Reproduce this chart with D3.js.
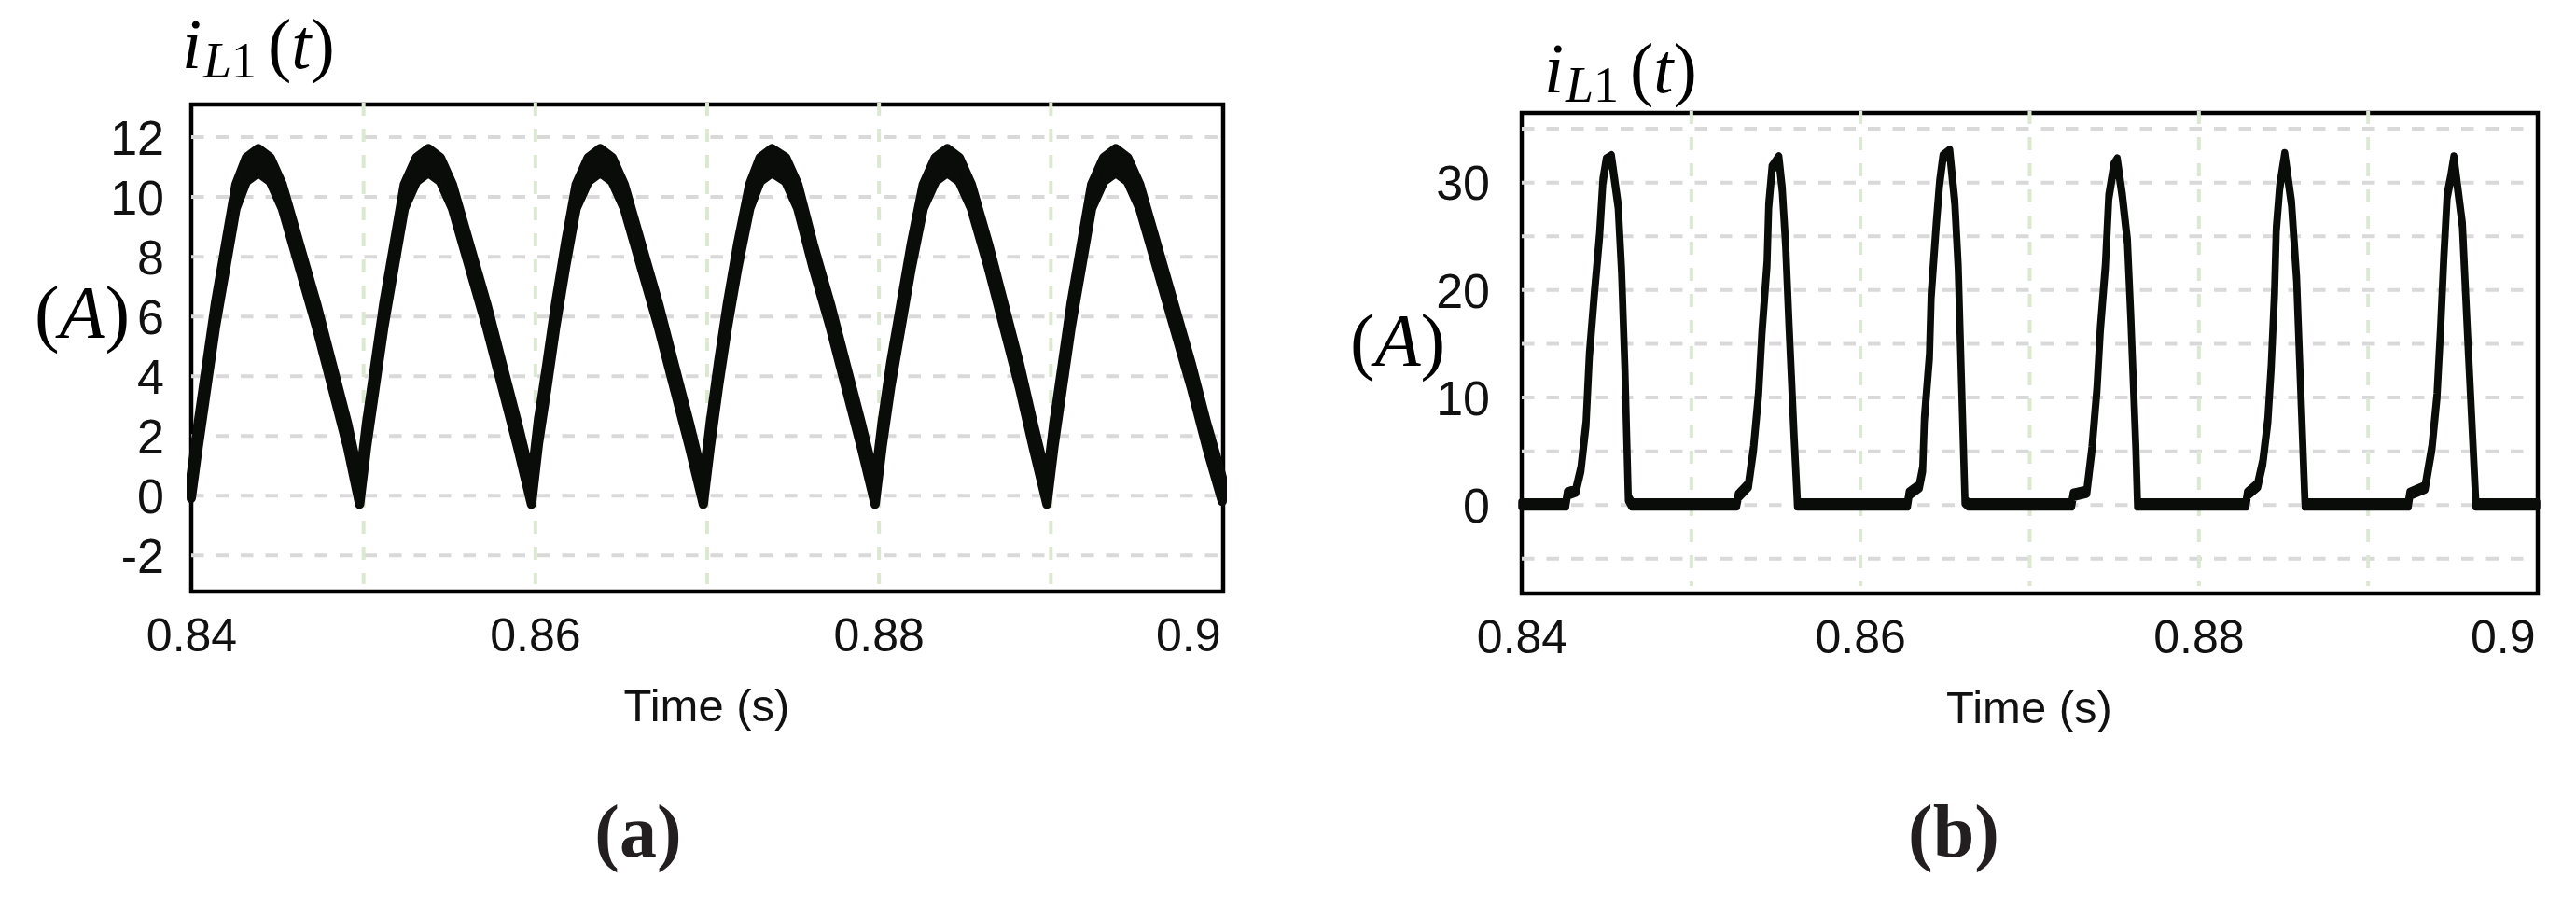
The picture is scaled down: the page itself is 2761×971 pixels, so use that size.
<!DOCTYPE html>
<html>
<head>
<meta charset="utf-8">
<script src="https://cdn.jsdelivr.net/npm/d3@7"></script>
<style>
  body { margin: 0; background: #fff; }
  svg { display: block; }
</style>
</head>
<body>
<script>
//Tick and grid values
var timeTicks = [0.84, 0.86, 0.88, 0.9];
var timeGrid = [0.85, 0.86, 0.87, 0.88, 0.89];
var ampTicksA = [-2, 0, 2, 4, 6, 8, 10, 12];
var ampGridA = [-2, 0, 2, 4, 6, 8, 10, 12];
var ampTicksB = [0, 10, 20, 30];
var ampGridB = [-5, 0, 5, 10, 15, 20, 25, 30, 35];

//Panel (a) - inductor current
var timeA = [
  0.8400, 0.8404, 0.8409, 0.8414, 0.8420, 0.8426, 0.8432, 0.8439, 0.8446, 0.8453, 0.8463, 0.8473, 0.8482, 0.8491, 0.8498,
  0.8502, 0.8507, 0.8512, 0.8518, 0.8524, 0.8531, 0.8538, 0.8545, 0.8552, 0.8562, 0.8572, 0.8581, 0.8590, 0.8598,
  0.8602, 0.8607, 0.8612, 0.8618, 0.8624, 0.8631, 0.8638, 0.8645, 0.8652, 0.8662, 0.8672, 0.8681, 0.8690, 0.8698,
  0.8702, 0.8707, 0.8712, 0.8718, 0.8725, 0.8731, 0.8738, 0.8746, 0.8753, 0.8762, 0.8772, 0.8781, 0.8790, 0.8798,
  0.8802, 0.8807, 0.8813, 0.8819, 0.8826, 0.8833, 0.8840, 0.8847, 0.8854, 0.8864, 0.8873, 0.8882, 0.8890, 0.8898,
  0.8902, 0.8907, 0.8912, 0.8918, 0.8924, 0.8931, 0.8938, 0.8945, 0.8952, 0.8962, 0.8972, 0.8982, 0.8991, 0.9000
];
var currentA = [
  0.3, 2.0, 4.0, 6.0, 8.0, 10.0, 10.9, 11.2, 10.9, 10.0, 8.0, 6.0, 4.0, 2.0, 0.1,
  2.0, 4.0, 6.0, 8.0, 10.0, 10.9, 11.2, 10.9, 10.0, 8.0, 6.0, 4.0, 2.0, 0.1,
  2.1, 4.0, 6.0, 8.1, 10.0, 10.9, 11.2, 10.9, 10.0, 8.0, 6.0, 4.0, 2.0, 0.1,
  2.0, 4.1, 6.0, 8.0, 10.0, 10.9, 11.2, 10.9, 10.0, 8.0, 6.0, 4.0, 2.0, 0.1,
  2.0, 4.0, 6.0, 8.0, 10.0, 10.9, 11.2, 10.9, 10.0, 8.0, 6.0, 4.0, 2.0, 0.1,
  2.0, 4.0, 6.0, 8.0, 10.0, 10.9, 11.2, 10.9, 10.0, 8.0, 6.0, 4.0, 2.0, 0.2
];

//Panel (b) - pulsed inductor current
var timeB = [
  0.8400, 0.8426, 0.8427, 0.8432, 0.8435, 0.8438, 0.8440, 0.8443, 0.8446, 0.8448, 0.8450, 0.8453, 0.8457, 0.8459, 0.8461, 0.8463, 0.8465,
  0.8527, 0.8528, 0.8534, 0.8537, 0.8540, 0.8542, 0.8545, 0.8546, 0.8548, 0.8552, 0.8554, 0.8556, 0.8558, 0.8561, 0.8563,
  0.8628, 0.8629, 0.8635, 0.8637, 0.8638, 0.8641, 0.8642, 0.8645, 0.8647, 0.8649, 0.8653, 0.8656, 0.8658, 0.8660, 0.8662, 0.8664,
  0.8725, 0.8726, 0.8734, 0.8737, 0.8740, 0.8742, 0.8745, 0.8747, 0.8750, 0.8752, 0.8755, 0.8758, 0.8760, 0.8763, 0.8764,
  0.8828, 0.8829, 0.8835, 0.8838, 0.8841, 0.8843, 0.8845, 0.8846, 0.8848, 0.8851, 0.8855, 0.8858, 0.8860, 0.8863,
  0.8924, 0.8925, 0.8934, 0.8938, 0.8941, 0.8943, 0.8945, 0.8947, 0.8949, 0.8951, 0.8956, 0.8959, 0.8962, 0.8964, 0.9000
];
var currentB = [
  0.0, 0.0, 1.0, 1.3, 3.3, 7.5, 13.9, 19.7, 25.0, 30.1, 32.0, 32.3, 27.8, 21.8, 12.6, 0.6, 0.0,
  0.0, 0.8, 1.8, 5.2, 10.3, 16.0, 22.4, 27.8, 31.3, 32.2, 29.3, 24.2, 16.7, 6.3, 0.0,
  0.0, 1.0, 1.7, 3.3, 7.9, 13.8, 19.4, 26.0, 29.9, 32.3, 32.8, 28.1, 22.1, 11.1, 0.3, 0.0,
  0.0, 0.9, 1.2, 5.1, 10.7, 16.3, 22.2, 28.6, 31.5, 32.0, 28.7, 24.5, 17.5, 5.3, 0.0,
  0.0, 1.0, 1.8, 3.9, 7.8, 12.8, 19.8, 25.6, 29.5, 32.5, 28.0, 21.0, 12.5, 0.0,
  0.0, 1.0, 1.6, 5.3, 10.1, 16.0, 22.9, 28.7, 30.3, 32.2, 26.0, 16.0, 6.4, 0.0, 0.0
];

//Half-width of the switching ripple band (A)
var rippleA = 0.4;
var rippleB = 0.25;

var sansFont = "'Liberation Sans', Arial, sans-serif";
var serifFont = "'Liberation Serif', 'Times New Roman', serif";
var ink = "#0a0c0a";

//Define SVG
var svg = d3.select("body")
    .append("svg")
    .attr("width", 2761)
    .attr("height", 971);

//Layout of each subplot
var panels = [
  { time: timeA, current: currentA, ripple: rippleA, ticks: ampTicksA, grid: ampGridA,
    x0: 205, x1: 1310, top: 112, bottom: 634, yMin: -3.225, yMax: 13.08, lineWidth: 10,
    yLabelX: 176, yLabelSize: 52, xLabelY: 698, timeLabelY: 773,
    titleX: 195, titleY: 73, unitX: 37, unitY: 362, caption: "(a)", captionX: 684 },
  { time: timeB, current: currentB, ripple: rippleB, ticks: ampTicksB, grid: ampGridB,
    x0: 1631, x1: 2719, top: 121, bottom: 636, yMin: -8.27, yMax: 36.44, lineWidth: 7.5,
    yLabelX: 1597, yLabelSize: 52, xLabelY: 700, timeLabelY: 775,
    titleX: 1655, titleY: 99, unitX: 1447, unitY: 392, caption: "(b)", captionX: 2094 }
];

panels.forEach(function(p) {
  var x = d3.scaleLinear().domain([0.84, 0.9]).range([p.x0, p.x1]);
  var y = d3.scaleLinear().domain([p.yMin, p.yMax]).range([p.bottom, p.top]);
  var g = svg.append("g");

  //Plot frame
  g.append("rect")
      .attr("x", p.x0)
      .attr("y", p.top)
      .attr("width", p.x1 - p.x0 + 1)
      .attr("height", p.bottom - p.top)
      .attr("fill", "none")
      .attr("stroke", "#000")
      .attr("stroke-width", 4.5);

  //Horizontal dashed grid
  var gh = g.append("g")
      .attr("transform", "translate(" + p.x0 + ",0)")
      .call(d3.axisRight(y).tickValues(p.grid).tickSize(p.x1 - p.x0 - 4).tickFormat(""));
  gh.select(".domain").remove();
  gh.selectAll("line")
      .attr("stroke", "#d9d9d9")
      .attr("stroke-width", 4)
      .attr("stroke-dasharray", "13.5,13");

  //Vertical dashed grid (light green)
  var gv = g.append("g")
      .attr("transform", "translate(0," + (p.top - 2) + ")")
      .call(d3.axisBottom(x).tickValues(timeGrid).tickSize(p.bottom - p.top - 6).tickFormat(""));
  gv.select(".domain").remove();
  gv.selectAll("line")
      .attr("stroke", "#dde8d3")
      .attr("stroke-width", 4)
      .attr("stroke-dasharray", "14,14");

  //Waveform: thick band for the ripple
  var pts = p.time.map(function(t, i) { return { t: t, v: p.current[i] }; });
  var band = d3.area()
      .x(function(d) { return x(d.t); })
      .y0(function(d) { return y(d.v - p.ripple); })
      .y1(function(d) { return y(d.v + p.ripple); });
  g.append("path")
      .datum(pts)
      .attr("d", band)
      .attr("fill", ink)
      .attr("stroke", ink)
      .attr("stroke-width", p.lineWidth)
      .attr("stroke-linejoin", "round");

  //Time tick labels
  var ax = g.append("g")
      .attr("transform", "translate(0," + p.xLabelY + ")")
      .call(d3.axisBottom(x).tickValues(timeTicks).tickSize(0).tickFormat(function(d) { return String(d); }));
  ax.select(".domain").remove();
  ax.attr("font-family", sansFont).attr("font-size", 50);
  ax.selectAll("text").attr("y", 0).attr("dy", null).attr("fill", "#111");
  ax.selectAll(".tick").filter(function(d) { return d === 0.9; })
      .select("text").attr("text-anchor", "end").attr("dx", -2);

  //Current tick labels
  var ay = g.append("g")
      .attr("transform", "translate(" + p.yLabelX + ",0)")
      .call(d3.axisLeft(y).tickValues(p.ticks).tickSize(0).tickPadding(0).tickFormat(function(d) { return String(d); }));
  ay.select(".domain").remove();
  ay.attr("font-family", sansFont).attr("font-size", p.yLabelSize);
  ay.selectAll("text").attr("x", 0).attr("dy", "0.36em").attr("fill", "#111");

  //Axis name under the time axis
  g.append("text")
      .attr("x", (p.x0 + p.x1) / 2)
      .attr("y", p.timeLabelY)
      .attr("text-anchor", "middle")
      .attr("font-family", sansFont)
      .attr("font-size", 49)
      .attr("fill", "#111")
      .text("Time (s)");

  //Title i_L1(t)
  var title = g.append("text")
      .attr("font-family", serifFont)
      .attr("fill", "#000");
  title.append("tspan")
      .attr("x", p.titleX).attr("y", p.titleY)
      .attr("font-size", 76).attr("font-style", "italic")
      .text("i");
  title.append("tspan")
      .attr("x", p.titleX + 23).attr("y", p.titleY + 10)
      .attr("font-size", 54).attr("font-style", "italic")
      .text("L");
  title.append("tspan")
      .attr("font-size", 54)
      .text("1");
  title.append("tspan")
      .attr("x", p.titleX + 92).attr("y", p.titleY)
      .attr("font-size", 76)
      .text("(");
  title.append("tspan")
      .attr("font-size", 76).attr("font-style", "italic")
      .text("t");
  title.append("tspan")
      .attr("font-size", 76)
      .text(")");

  //Unit label (A)
  var unit = g.append("text")
      .attr("x", p.unitX).attr("y", p.unitY)
      .attr("font-family", serifFont)
      .attr("font-size", 80)
      .attr("fill", "#000");
  unit.append("tspan").text("(");
  unit.append("tspan").attr("font-style", "italic").text("A");
  unit.append("tspan").text(")");

  //Subfigure caption
  g.append("text")
      .attr("x", p.captionX)
      .attr("y", 918)
      .attr("text-anchor", "middle")
      .attr("font-family", serifFont)
      .attr("font-weight", "bold")
      .attr("font-size", 80)
      .attr("fill", "#231f20")
      .text(p.caption);
});
</script>
</body>
</html>
